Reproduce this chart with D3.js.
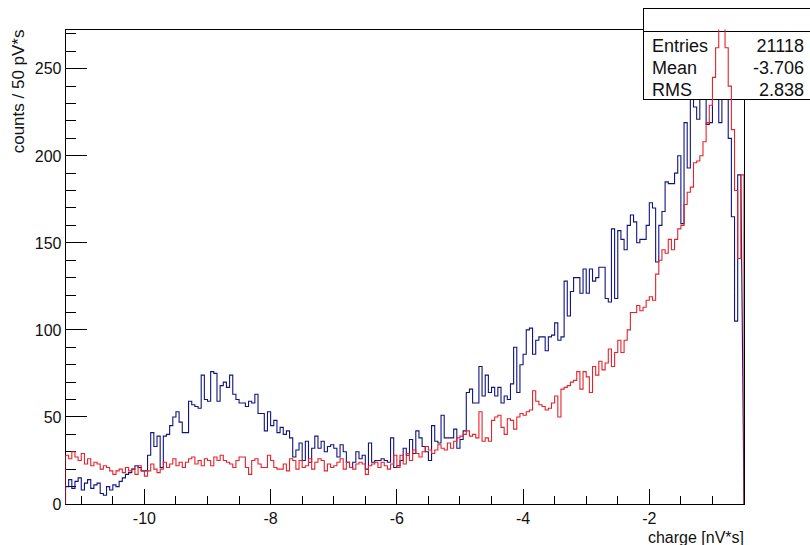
<!DOCTYPE html>
<html><head><meta charset="utf-8">
<script src="https://cdn.jsdelivr.net/npm/d3@7"></script>
<style>
body{margin:0;background:#fff}
svg{display:block}
text{font-family:"Liberation Sans",Arial,Helvetica,sans-serif;fill:#111}
</style>
</head><body>
<svg id="c" width="810" height="545"></svg>
<script>
// ---- data ----
const xMin = -11.25, xMax = -0.5, binWidth = 0.05;
const yMax = 272.5;
const blueCounts = [
  10,14,9,13,15,8,12,14,9,11,
  12,6,5,10,8,11,10,13,15,17,
  18,20,22,21,19,19,28,41,33,39,
  21,39,40,45,50,53,47,41,41,59,
  57,56,55,74,60,59,76,75,59,68,
  70,67,74,63,60,58,58,56,59,58,
  63,52,52,42,53,45,48,41,44,40,
  42,38,27,31,35,25,36,24,32,39,
  32,36,30,33,34,32,27,34,30,24,
  21,24,30,26,28,20,35,24,25,25,
  26,25,24,38,21,22,25,32,28,37,
  29,42,38,33,30,25,45,36,35,51,
  38,38,38,43,32,37,42,64,66,58,
  58,79,62,74,64,67,62,67,58,62,
  60,69,90,64,80,86,100,101,86,94,
  96,96,88,96,97,104,94,96,128,108,
  122,130,130,121,135,121,135,128,130,136,
  136,118,116,158,118,157,152,146,160,166,
  162,150,152,152,160,173,170,139,160,168,
  185,184,184,190,200,161,219,193,236,228,
  221,240,240,218,219,259,245,219,250,240,
  210,165,105,189
];
const redCounts = [
  28,26,30,27,25,29,23,26,22,24,
  23,20,22,21,19,17,19,20,18,21,
  19,20,17,22,19,16,19,23,20,18,
  20,24,21,23,26,22,24,21,24,26,
  27,23,25,22,26,25,22,27,25,28,
  25,24,23,21,25,27,27,21,17,25,
  26,23,21,21,28,25,21,20,20,23,
  19,26,25,20,25,21,22,26,20,24,
  26,25,19,23,21,22,24,26,20,24,
  21,20,23,24,23,17,22,23,24,21,
  24,22,20,23,28,21,28,23,29,25,
  31,29,27,30,33,31,29,31,34,32,
  31,35,32,36,38,39,40,42,39,40,
  38,53,36,38,36,48,50,51,44,40,
  49,48,43,50,52,51,53,54,65,59,
  57,56,54,55,58,62,50,66,67,68,
  70,71,76,66,76,73,64,79,74,82,
  77,81,89,79,87,94,87,94,100,110,
  110,114,111,113,117,119,117,132,140,146,
  144,152,146,152,158,160,172,179,182,196,
  197,200,208,219,229,245,262,285,280,262,
  240,215,180,141,189
];
const xMajorTicks = [-10,-8,-6,-4,-2];
const yMajorTicks = [0,50,100,150,200,250];
const statsLabels = ["Entries","Mean","RMS"];
const statsValues = ["21118","-3.706","2.838"];
const xTitle = "charge [nV*s]";
const yTitle = "counts / 50 pV*s";
const blueColor = "#10147e", redColor = "#e8222a";

// ---- drawing ----
const svg = d3.select("#c");
const x = d3.scaleLinear().domain([xMin, xMax]).range([65.5, 744]);
const y = d3.scaleLinear().domain([0, yMax]).range([504, 29.5]);

svg.append("defs").append("clipPath").attr("id","plotclip")
  .append("rect").attr("x", x(xMin)).attr("y", y(yMax))
  .attr("width", x(xMax)-x(xMin)).attr("height", y(0)-y(yMax));

// frame
svg.append("rect").attr("x", x(xMin)).attr("y", y(yMax))
  .attr("width", x(xMax)-x(xMin)).attr("height", y(0)-y(yMax))
  .attr("fill","none").attr("stroke","#000").attr("stroke-width",1)
  .attr("shape-rendering","crispEdges");

// x ticks
const xMinor = d3.range(-11, -0.49, 0.5).filter(v => !xMajorTicks.some(m => Math.abs(m-v)<1e-6));
const g = svg.append("g").attr("shape-rendering","crispEdges").attr("stroke","#000");
xMinor.forEach(v => g.append("line").attr("x1",x(v)).attr("x2",x(v)).attr("y1",y(0)).attr("y2",y(0)-8));
xMajorTicks.forEach(v => g.append("line").attr("x1",x(v)).attr("x2",x(v)).attr("y1",y(0)).attr("y2",y(0)-15));
// y ticks
const yMinor = d3.range(10, yMax, 10).filter(v => v % 50 !== 0);
yMinor.forEach(v => g.append("line").attr("x1",x(xMin)).attr("x2",x(xMin)+10.5).attr("y1",y(v)).attr("y2",y(v)));
yMajorTicks.forEach(v => g.append("line").attr("x1",x(xMin)).attr("x2",x(xMin)+21).attr("y1",y(v)).attr("y2",y(v)));

// tick labels
svg.append("g").selectAll("text").data(xMajorTicks).join("text")
  .attr("x", d => x(d)).attr("y", 523.5).attr("text-anchor","middle")
  .attr("font-size", 16).text(d => d);
svg.append("g").selectAll("text").data(yMajorTicks).join("text")
  .attr("x", 61.5).attr("y", d => y(d) + 5.8).attr("text-anchor","end")
  .attr("font-size", 16).text(d => d);

// axis titles
svg.append("text").attr("x", x(xMax)).attr("y", 542.5).attr("text-anchor","end")
  .attr("font-size", 16).text(xTitle);
svg.append("text").attr("transform", `translate(24,${y(yMax)}) rotate(-90)`)
  .attr("text-anchor","end").attr("font-size", 17).text(yTitle);

// histogram step path
function stepPoints(counts) {
  const pts = [[x(xMin), y(0)]];
  counts.forEach((c, i) => {
    pts.push([x(xMin + i*binWidth), y(c)]);
    pts.push([x(xMin + (i+1)*binWidth), y(c)]);
  });
  pts.push([x(xMax), y(0)]);
  return pts;
}
const line = d3.line();

svg.append("path").attr("d", line(stepPoints(blueCounts)))
  .attr("fill","none").attr("stroke",blueColor).attr("stroke-width",1.1)
  .attr("clip-path","url(#plotclip)");

// stats box
const sb = svg.append("g");
sb.append("rect").attr("x",643.5).attr("y",8.5).attr("width",180).attr("height",91)
  .attr("fill","#fff").attr("stroke","#000").attr("shape-rendering","crispEdges");
sb.append("line").attr("x1",643.5).attr("x2",812).attr("y1",31.5).attr("y2",31.5)
  .attr("stroke","#000").attr("shape-rendering","crispEdges");
const rowY = [51.5, 73.5, 95.5];
sb.selectAll("text.l").data(statsLabels).join("text").attr("class","l")
  .attr("x",652).attr("y",(d,i)=>rowY[i]).attr("font-size",18).text(d=>d);
sb.selectAll("text.v").data(statsValues).join("text").attr("class","v")
  .attr("x",804).attr("y",(d,i)=>rowY[i]).attr("text-anchor","end").attr("font-size",18).text(d=>d);

svg.append("path").attr("d", line(stepPoints(redCounts)))
  .attr("fill","none").attr("stroke",redColor).attr("stroke-width",1.1)
  .attr("clip-path","url(#plotclip)");
</script>
</body></html>
